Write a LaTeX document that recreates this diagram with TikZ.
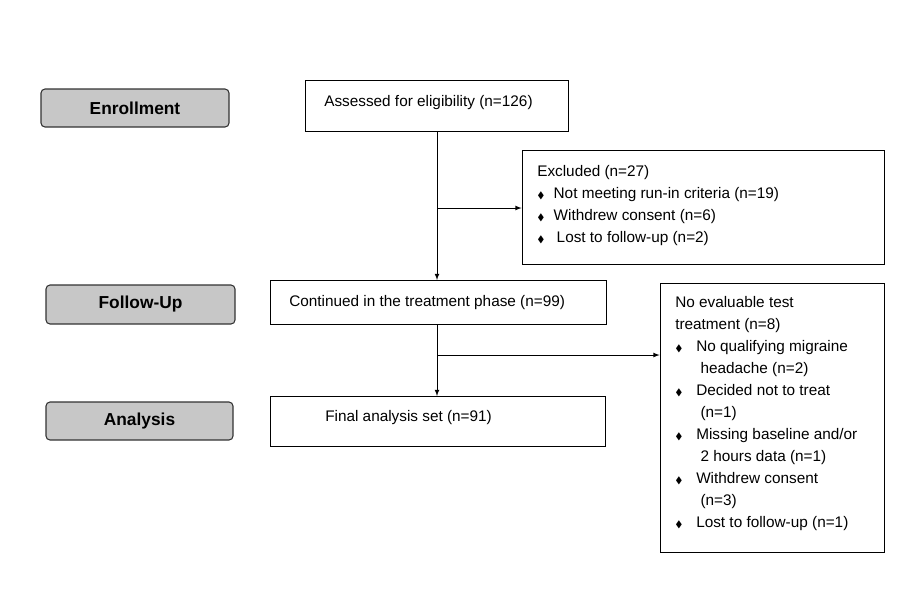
\documentclass[tikz,border=0pt]{standalone}
\usepackage{fontspec}
\usepackage{amssymb}
\setmainfont{Liberation Sans}
\begin{document}
\begin{tikzpicture}[x=0.75pt,y=-0.75pt,
 lab/.style={draw=black!80,fill=black!22,rounded corners=3pt,line width=0.8pt,font=\fontsize{13}{15}\selectfont\bfseries},
 box/.style={draw,line width=0.6pt},
 txt/.style={anchor=north west,align=left,font=\fontsize{11.5}{16.5}\selectfont,inner sep=0pt},
 arr/.style={-latex,line width=0.6pt}]
\useasboundingbox (0,0) rectangle (912,601);
\node[lab,minimum width=188*0.75pt,minimum height=38*0.75pt] (en) at (135,108) {Enrollment};
\node[lab,minimum width=189*0.75pt,minimum height=39*0.75pt] (fu) at (140.5,304.5) {Follow-Up};
\node[lab,minimum width=187*0.75pt,minimum height=38*0.75pt] (an) at (139.5,421) {Analysis};
\node[box,minimum width=263*0.75pt,minimum height=51*0.75pt] (as) at (436.5,105.5) {};
\node[txt] (ast) at (324,95) {Assessed for eligibility (n=126)};
\node[box,minimum width=362*0.75pt,minimum height=114*0.75pt] (ex) at (703,207) {};
\node[txt] (ext) at (537,165) {Excluded (n=27)\\
{\scriptsize$\blacklozenge$}\hspace{0.6em}Not meeting run-in criteria (n=19)\\
{\scriptsize$\blacklozenge$}\hspace{0.6em}Withdrew consent (n=6)\\
{\scriptsize$\blacklozenge$}\hspace{0.8em}Lost to follow-up (n=2)};
\node[box,minimum width=336*0.75pt,minimum height=44*0.75pt] (co) at (438,302) {};
\node[txt] (cot) at (289,295) {Continued in the treatment phase (n=99)};
\node[box,minimum width=224*0.75pt,minimum height=269*0.75pt] (ne) at (772,417.5) {};
\node[txt] (net) at (675,296) {No evaluable test\\treatment (n=8)\\
{\scriptsize$\blacklozenge$}\hspace{0.9em}No qualifying migraine\\\hspace{1.65em}headache (n=2)\\
{\scriptsize$\blacklozenge$}\hspace{0.9em}Decided not to treat\\\hspace{1.65em}(n=1)\\
{\scriptsize$\blacklozenge$}\hspace{0.9em}Missing baseline and/or\\\hspace{1.65em}2 hours data (n=1)\\
{\scriptsize$\blacklozenge$}\hspace{0.9em}Withdrew consent\\\hspace{1.65em}(n=3)\\
{\scriptsize$\blacklozenge$}\hspace{0.9em}Lost to follow-up (n=1)};
\node[box,minimum width=335*0.75pt,minimum height=50*0.75pt] (fi) at (437.5,421) {};
\node[txt] (fit) at (325,410) {Final analysis set (n=91)};
\coordinate (j1) at (437,208);
\coordinate (j2) at (437,355);
\draw[arr] (437,131) -- (437,280);
\draw[arr] (j1) -- (ex.west|-j1);
\draw[arr] (437,324) -- (437,396);
\draw[arr] (j2) -- (ne.west|-j2);
\end{tikzpicture}
\end{document}
